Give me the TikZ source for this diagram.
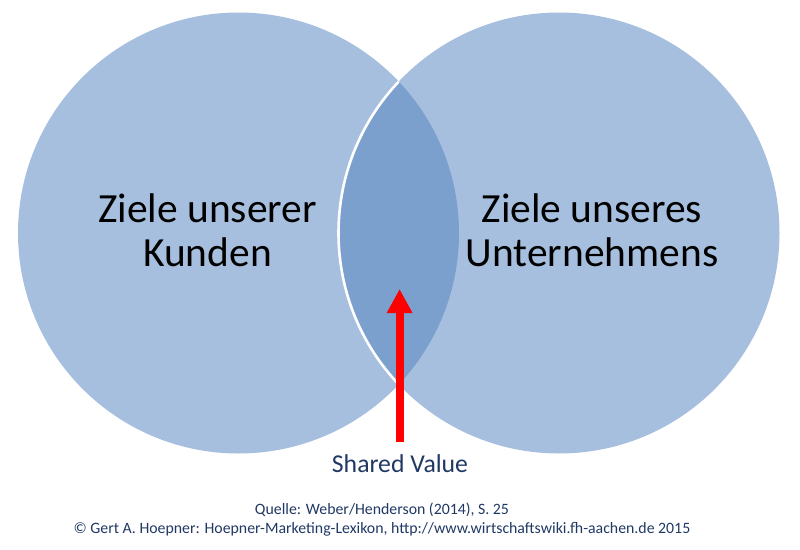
\documentclass[tikz,border=0pt]{standalone}
\usepackage{fontspec}
\setmainfont{Carlito}
\usetikzlibrary{arrows.meta}
\definecolor{circlefill}{HTML}{A7BFDE}
\definecolor{lensfill}{HTML}{7BA0CD}
\definecolor{navytext}{HTML}{203864}
\begin{document}
\begin{tikzpicture}[
  goal/.style={align=center, text=black, font=\fontsize{29.5pt}{31.3pt}\selectfont},
  source/.style={align=center, text=navytext, font=\fontsize{11.25pt}{13.5pt}\selectfont}]
\useasboundingbox (0,0) rectangle (20,13.725);
% Circles
\fill[circlefill] (5.9625,7.9) circle (5.5125);
\fill[circlefill] (13.975,7.9) circle (5.5125);
\begin{scope}
\clip (5.9625,7.9) circle (5.5125);
\filldraw[fill=lensfill, draw=white, line width=0.065cm] (13.975,7.9) circle (5.5125);
\end{scope}

% Labels
\node[goal] (kunden) at (5.19,7.975) {Ziele unserer\\Kunden};
\node[goal] (firma) at (14.8,7.975) {Ziele unseres\\Unternehmens};
\node[text=navytext, font=\fontsize{18.3pt}{22pt}\selectfont] (value) at (10,2.125) {Shared Value};

% Arrow
\coordinate (foot) at (9.99,2.675);
\coordinate (tip) at (9.99,6.5);
\draw[red, line width=0.2cm, -{Triangle[length=0.6cm, width=0.6cm]}] (foot) -- (tip);

% Source
\node[source] (quelle) at (9.55,0.725) {Quelle: Weber/Henderson (2014), S. 25\\\textcopyright{} Gert A. Hoepner: Hoepner-Marketing-Lexikon, http://www.wirtschaftswiki.fh-aachen.de 2015};
\end{tikzpicture}
\end{document}
